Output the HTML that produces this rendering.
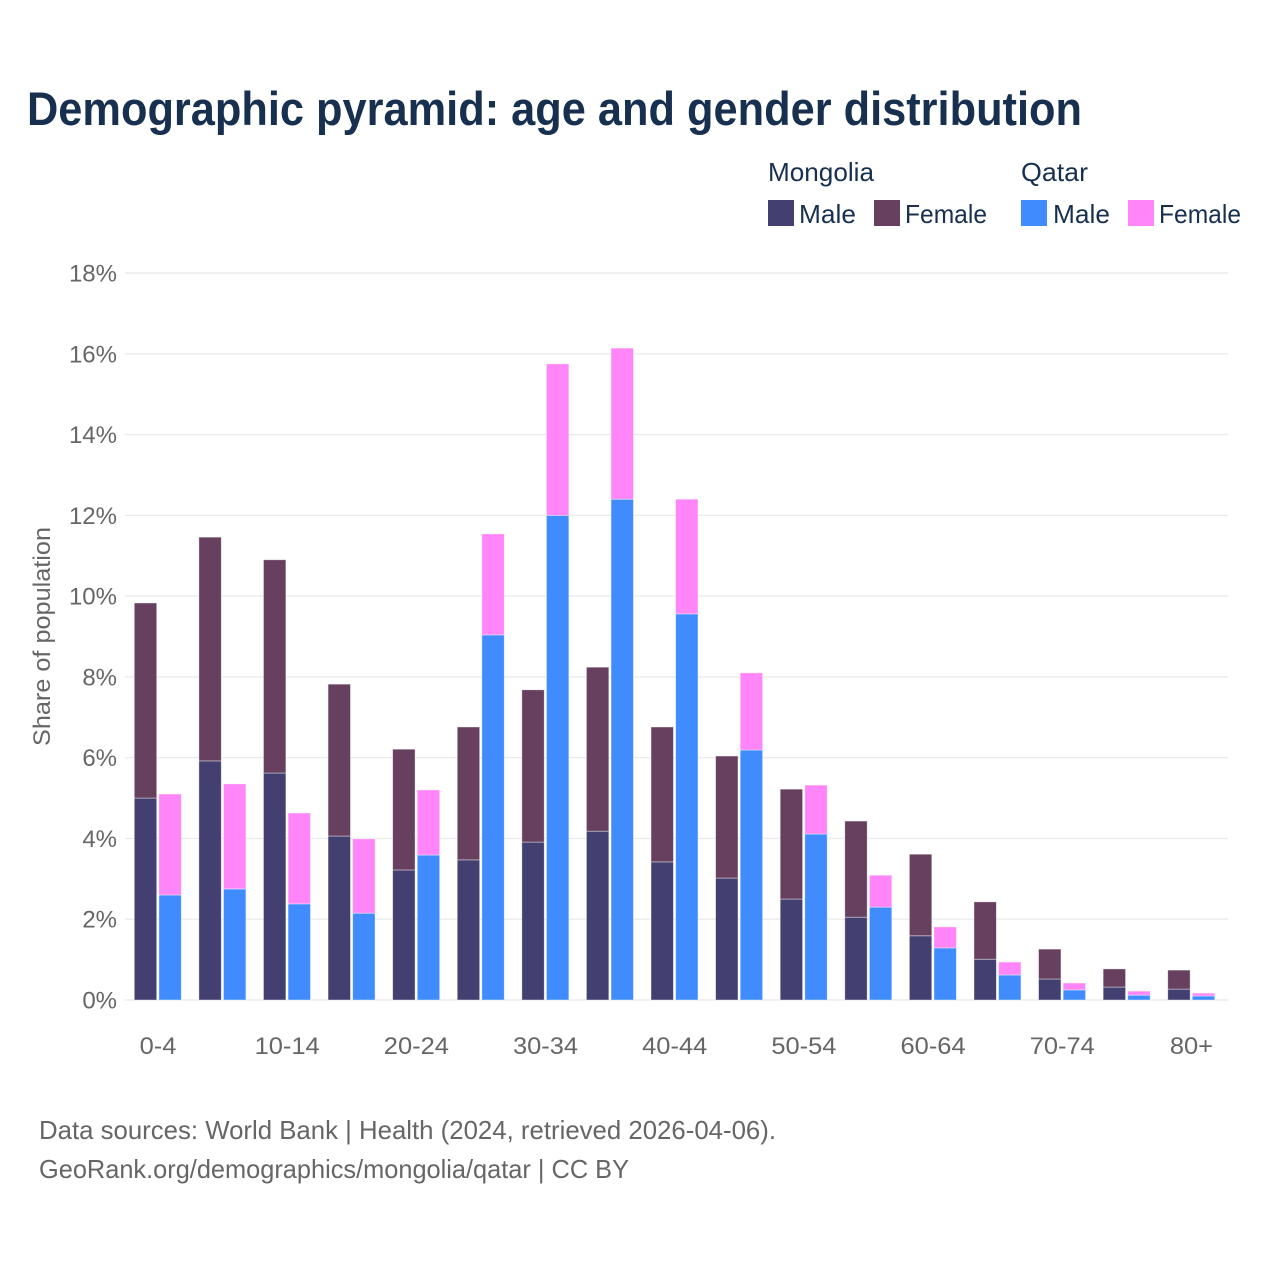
<!DOCTYPE html>
<html lang="en">
<head>
<meta charset="utf-8">
<title>Demographic pyramid</title>
<style>
html,body{margin:0;padding:0;background:#fff}
svg{display:block}
text{font-family:"Liberation Sans",sans-serif}
</style>
</head>
<body>
<svg id="chart" xmlns="http://www.w3.org/2000/svg" width="1280" height="1280" viewBox="0 0 1280 1280">
  <rect x="0" y="0" width="1280" height="1280" fill="#ffffff"/>
  <text x="27" y="125" font-size="47" font-weight="700" fill="#18304f" textLength="1055" lengthAdjust="spacingAndGlyphs">Demographic pyramid: age and gender distribution</text>

  <g font-size="26" fill="#18304f">
    <text x="768" y="181" textLength="106" lengthAdjust="spacingAndGlyphs">Mongolia</text>
    <text x="1021" y="181" textLength="67" lengthAdjust="spacingAndGlyphs">Qatar</text>
    <rect x="768" y="200" width="26" height="26" fill="#433f70"/>
    <text x="799" y="223" textLength="57" lengthAdjust="spacingAndGlyphs">Male</text>
    <rect x="874" y="200" width="26" height="26" fill="#674060"/>
    <text x="905" y="223" textLength="82" lengthAdjust="spacingAndGlyphs">Female</text>
    <rect x="1021" y="200" width="26" height="26" fill="#408cff"/>
    <text x="1053" y="223" textLength="57" lengthAdjust="spacingAndGlyphs">Male</text>
    <rect x="1128" y="200" width="26" height="26" fill="#ff85f8"/>
    <text x="1159" y="223" textLength="82" lengthAdjust="spacingAndGlyphs">Female</text>
  </g>

  <g id="grid"></g>
  <g id="y-labels"></g>
  <g id="bars"></g>
  <g id="x-labels"></g>

  <text transform="translate(50 636.5) rotate(-90)" text-anchor="middle" font-size="24" fill="#666666" textLength="219" lengthAdjust="spacingAndGlyphs">Share of population</text>

  <text x="39" y="1139" font-size="26" fill="#666666" textLength="737" lengthAdjust="spacingAndGlyphs">Data sources: World Bank | Health (2024, retrieved 2026-04-06).</text>
  <text x="39" y="1178" font-size="26" fill="#666666" textLength="590" lengthAdjust="spacingAndGlyphs">GeoRank.org/demographics/mongolia/qatar | CC BY</text>
</svg>
<script>
const categories = ['0-4','5-9','10-14','15-19','20-24','25-29','30-34','35-39','40-44','45-49','50-54','55-59','60-64','65-69','70-74','75-79','80+'];
const mongoliaMale = [5.0,5.92,5.62,4.06,3.22,3.47,3.91,4.18,3.42,3.02,2.5,2.05,1.59,1.01,0.52,0.32,0.27];
const mongoliaFemale = [4.83,5.54,5.28,3.76,2.99,3.29,3.77,4.06,3.34,3.02,2.72,2.38,2.02,1.42,0.74,0.45,0.47];
const qatarMale = [2.6,2.75,2.38,2.15,3.59,9.04,12.0,12.4,9.56,6.19,4.11,2.3,1.29,0.62,0.25,0.12,0.1];
const qatarFemale = [2.5,2.6,2.25,1.84,1.61,2.5,3.75,3.74,2.84,1.91,1.21,0.79,0.52,0.32,0.17,0.1,0.07];
const yTicks = [0,2,4,6,8,10,12,14,16,18];

const NS = 'http://www.w3.org/2000/svg';
const yScale = v => 1000 - v * (727 / 18);
const groupX = i => 134.3 + i * 64.59;
const BAR_W = 22.4;
const OFFSET = 24.6;

function make(tag, parent, attrs, txt) {
  const el = document.createElementNS(NS, tag);
  for (const k in attrs) el.setAttribute(k, attrs[k]);
  if (txt !== undefined) el.textContent = txt;
  parent.appendChild(el);
  return el;
}

const grid = document.getElementById('grid');
const yLabels = document.getElementById('y-labels');
yTicks.forEach(t => {
  const line = make('line', grid, {x1: 125, x2: 1228, y1: yScale(t), y2: yScale(t), stroke: '#ebebeb', 'stroke-width': 1.4});
  
  
  const lab = make('text', yLabels, {x: 117, y: yScale(t) + 8.5, 'text-anchor': 'end', 'font-size': 24, fill: '#666666'}, t + '%');
  
  
});

const bars = document.getElementById('bars');
function segment(x, v0, v1, color, name) {
  const r = make('rect', bars, {
    x: x, y: yScale(v1), width: BAR_W, height: yScale(v0) - yScale(v1),
    fill: color, stroke: '#ffffff', 'stroke-opacity': 0.5, 'stroke-width': 0.8
  });
  
  
}
categories.forEach((c, i) => {
  const x = groupX(i);
  segment(x, 0, mongoliaMale[i], '#433f70', 'bar-mongolia-male');
  segment(x, mongoliaMale[i], mongoliaMale[i] + mongoliaFemale[i], '#674060', 'bar-mongolia-female');
  segment(x + OFFSET, 0, qatarMale[i], '#408cff', 'bar-qatar-male');
  segment(x + OFFSET, qatarMale[i], qatarMale[i] + qatarFemale[i], '#ff85f8', 'bar-qatar-female');
});

const xLabels = document.getElementById('x-labels');
categories.forEach((c, i) => {
  if (i % 2 !== 0) return;
  const lab = make('text', xLabels, {x: groupX(i) + 23.7, y: 1054, 'text-anchor': 'middle', 'font-size': 24, fill: '#666666'}, c);
  
  
  lab.setAttribute('textLength', (lab.getComputedTextLength() * 1.06).toFixed(1));
  lab.setAttribute('lengthAdjust', 'spacingAndGlyphs');
});
</script>
</body>
</html>
